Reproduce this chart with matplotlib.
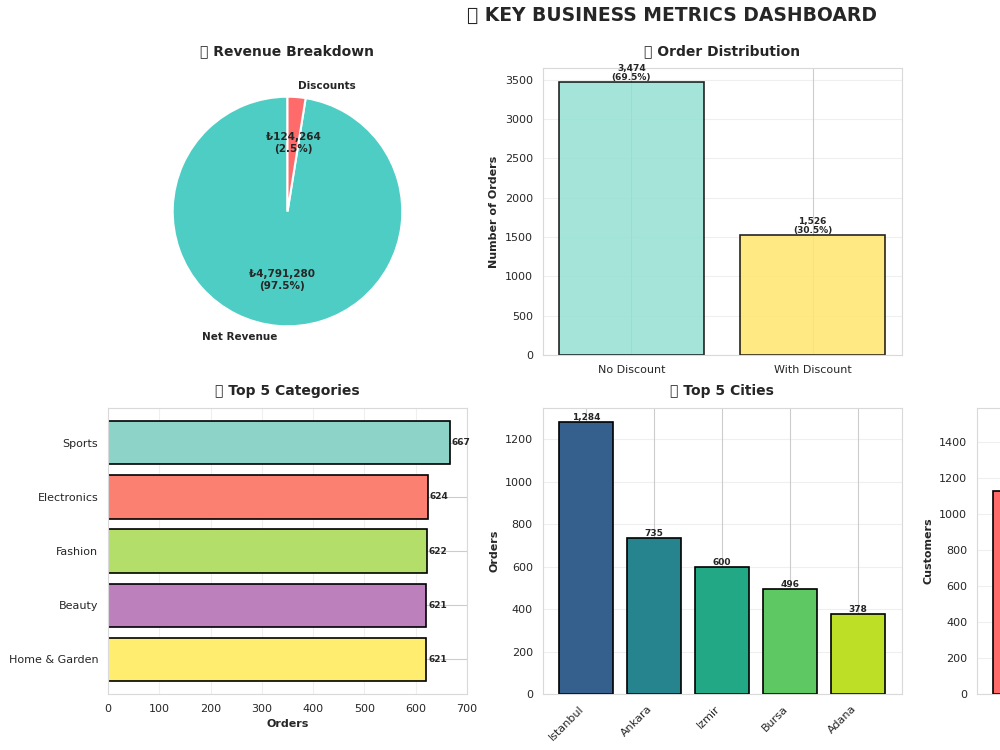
import matplotlib
matplotlib.use("Agg")
import matplotlib.pyplot as plt
import seaborn as sns
import numpy as np

# revenue split
revenue_labels = ["Net Revenue", "Discounts"]
revenue_values = [4791280, 124264]

# orders with / without discount
order_labels = ["No Discount", "With Discount"]
order_values = [3474, 1526]

# top categories
category_names = ["Sports", "Electronics", "Fashion", "Beauty", "Home & Garden"]
category_orders = [667, 624, 622, 621, 621]

# top cities
city_names = ["Istanbul", "Ankara", "Izmir", "Bursa", "Adana"]
city_orders = [1284, 735, 600, 496, 378]

# customers panel (only partly inside the picture)
customer_labels = ["New", "Returning"]
customer_values = [1128, 1513]

sns.set_style("whitegrid")
plt.rcParams['font.family'] = ['DejaVu Sans']
plt.rcParams['axes.edgecolor'] = '.85'

fig = plt.figure(figsize=(10, 7.5), dpi=100)
# the emoji have no glyph in any installed font, the reference shows them as boxes too
fig.suptitle("📊 KEY BUSINESS METRICS DASHBOARD", fontsize=13.5, fontweight='bold',
             x=0.672, y=0.9915, color='.15')

W = 0.359
top_b, top_h = 1 - 355 / 750, 287 / 750
bot_b, bot_h = 1 - 694 / 750, 286 / 750
TPAD = 9

# --- pie
ax1 = fig.add_axes([0.108, top_b, W, top_h])
total = sum(revenue_values)


def fmt_pct(p):
    return "₺{:,.0f}\n({:.1f}%)".format(p * total / 100, p)


wedges, texts, autotexts = ax1.pie(revenue_values, labels=revenue_labels, colors=['#4ECDC4', '#FF6B6B'],
                                   autopct=fmt_pct, startangle=90,
                                   wedgeprops=dict(edgecolor='white', linewidth=1.5),
                                   textprops=dict(fontsize=7.5, fontweight='bold', color='.15'))
ax1.set_title("💰 Revenue Breakdown", fontsize=10, fontweight='bold', color='.15', pad=TPAD)

# --- order distribution
ax2 = fig.add_axes([0.5425, top_b, W, top_h])
bars = ax2.bar(order_labels, order_values, color=['#95E1D3', '#FFE66D'], alpha=0.85,
               edgecolor='black', linewidth=1.2)
order_total = sum(order_values)
for b, v in zip(bars, order_values):
    ax2.text(b.get_x() + b.get_width() / 2, v, "{:,}\n({:.1f}%)".format(v, v / order_total * 100),
             ha='center', va='bottom', fontsize=6.5, fontweight='bold', color='.15', linespacing=1.0)
ax2.set_ylabel("Number of Orders", fontsize=8, fontweight='bold')
ax2.grid(axis='y', alpha=0.3)
ax2.tick_params(labelsize=8)
ax2.set_title("🎯 Order Distribution", fontsize=10, fontweight='bold', color='.15', pad=TPAD)

# --- categories
ax3 = fig.add_axes([0.108, bot_b, W, bot_h])
cat_colors = plt.cm.Set3(np.linspace(0, 1, len(category_names)))
bars = ax3.barh(category_names, category_orders, color=cat_colors, edgecolor='black', linewidth=1.2)
ax3.invert_yaxis()
for b, v in zip(bars, category_orders):
    ax3.text(v + 4, b.get_y() + b.get_height() / 2, str(v), va='center', ha='left',
             fontsize=6.5, fontweight='bold', color='.15')
ax3.set_xlabel("Orders", fontsize=8, fontweight='bold')
ax3.grid(axis='x', alpha=0.3)
ax3.tick_params(labelsize=8)
ax3.set_title("🏆 Top 5 Categories", fontsize=10, fontweight='bold', color='.15', pad=TPAD)

# --- cities
ax4 = fig.add_axes([0.5425, bot_b, W, bot_h])
city_colors = plt.cm.viridis(np.linspace(0.3, 0.9, len(city_names)))
bars = ax4.bar(city_names, city_orders, color=city_colors, edgecolor='black', linewidth=1.2)
for b, v in zip(bars, city_orders):
    ax4.text(b.get_x() + b.get_width() / 2, v, "{:,}".format(v), ha='center', va='bottom',
             fontsize=6.5, fontweight='bold', color='.15')
ax4.set_ylabel("Orders", fontsize=8, fontweight='bold')
ax4.grid(axis='y', alpha=0.3)
ax4.tick_params(labelsize=8)
plt.setp(ax4.get_xticklabels(), rotation=45, ha='right')
ax4.set_title("🌍 Top 5 Cities", fontsize=10, fontweight='bold', color='.15', pad=TPAD)

# --- customers (cut off at the right edge)
ax5 = fig.add_axes([0.977, bot_b, W, bot_h])
bars = ax5.bar(customer_labels, customer_values, color=['#FF6B6B', '#4ECDC4'], edgecolor='black',
               linewidth=1.2)
ax5.set_ylabel("Customers", fontsize=8, fontweight='bold')
ax5.grid(axis='y', alpha=0.3)
ax5.tick_params(labelsize=8)
ax5.tick_params(axis='x', labelbottom=False)

fig.savefig("out.png", dpi=100)
